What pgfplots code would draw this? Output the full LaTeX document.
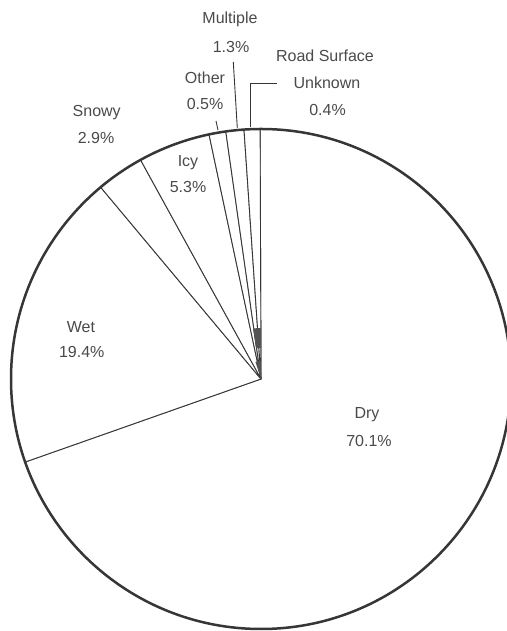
\documentclass[border=0pt]{standalone}
\usepackage{pgfplots}
\pgfplotsset{compat=1.18}
\usepackage{pgfplotstable}
\usepackage{fontspec}
\setmainfont{Liberation Sans}

\definecolor{ink}{HTML}{363636}
\definecolor{txt}{HTML}{4A4A4A}

% road surface condition, share of crashes
% a1/a2: edges of each slice as drawn (deg, counterclockwise from 3 o'clock)
\pgfplotstableread{
name      pct   a1      a2
Dry       70.1  90.2   -160.6
Wet       19.4  199.4   129.9
Snowy      2.9  129.9   118.8
Icy        5.3  118.8   102.0
Other      0.5  102.0    98.1
Multiple   1.3   98.1    93.9
Unknown    0.4   93.9    90.2
}\slices

\begin{document}
\begin{tikzpicture}
\begin{axis}[
    width=506pt, height=631pt,
    scale only axis,
    xmin=0, xmax=506,
    ymin=0, ymax=631,
    hide axis,
    clip=false,
]
\def\cx{261}
\def\cy{252}
\def\R{250}

% slices
\pgfplotstablegetrowsof{\slices}
\pgfmathtruncatemacro\last{\pgfplotsretval-1}
\pgfplotsforeachungrouped \i in {0,...,\last}{
    \pgfplotstablegetelem{\i}{a1}\of\slices \let\aone=\pgfplotsretval
    \pgfplotstablegetelem{\i}{a2}\of\slices \let\atwo=\pgfplotsretval
    \edef\temp{\noexpand\draw[ink, line width=0.9pt, fill=white, line join=round]
        (axis cs:\cx,\cy) -- ++(\aone:\R pt)
        arc[start angle=\aone, end angle=\atwo, radius=\R pt] -- cycle;}
    \temp
}

% ink run-together where the thin slices meet
\fill[ink!85] (axis cs:\cx,\cy) ++(90.2:31pt) arc[start angle=90.2, end angle=99, radius=31pt]
    -- ++(99:20pt) arc[start angle=99, end angle=90.2, radius=51pt] -- cycle;
\fill[ink!85] (axis cs:\cx,\cy) -- ++(90.2:18pt) arc[start angle=90.2, end angle=108, radius=18pt] -- cycle;

% rim
\draw[ink, line width=2.5pt] (axis cs:\cx,\cy) circle[radius=\R pt];

% leader lines
\draw[ink, line width=0.9pt] (axis cs:233.3,569) -- (axis cs:237.3,503);
\draw[ink, line width=0.9pt] (axis cs:216,510) -- (axis cs:218,501);
\draw[ink, line width=0.9pt] (axis cs:250,504) -- (axis cs:250,548) -- (axis cs:277,548);

% labels
\tikzset{lab/.style={anchor=base, inner sep=0pt, text=txt,
    font=\fontsize{16}{18}\selectfont}}
\node[lab] at (axis cs:230,607.5) {Multiple};
\node[lab] at (axis cs:231,578.5) {1.3\%};
\node[lab] at (axis cs:205,547.5) {Other};
\node[lab] at (axis cs:205,521.5) {0.5\%};
\node[lab] at (axis cs:325,569.5) {Road Surface};
\node[lab] at (axis cs:327,542.5) {Unknown};
\node[lab] at (axis cs:327.5,515.5) {0.4\%};
\node[lab] at (axis cs:96.7,514.8) {Snowy};
\node[lab] at (axis cs:96,487.5) {2.9\%};
\node[lab] at (axis cs:188,464.5) {Icy};
\node[lab] at (axis cs:188,438) {5.3\%};
\node[lab] at (axis cs:81,298.8) {Wet};
\node[lab] at (axis cs:81.7,273.2) {19.4\%};
\node[lab] at (axis cs:367,212.5) {Dry};
\node[lab] at (axis cs:369,184.5) {70.1\%};
\end{axis}
\pgfresetboundingbox
\useasboundingbox (0,0) rectangle (506pt,631pt);
\end{tikzpicture}
\end{document}
